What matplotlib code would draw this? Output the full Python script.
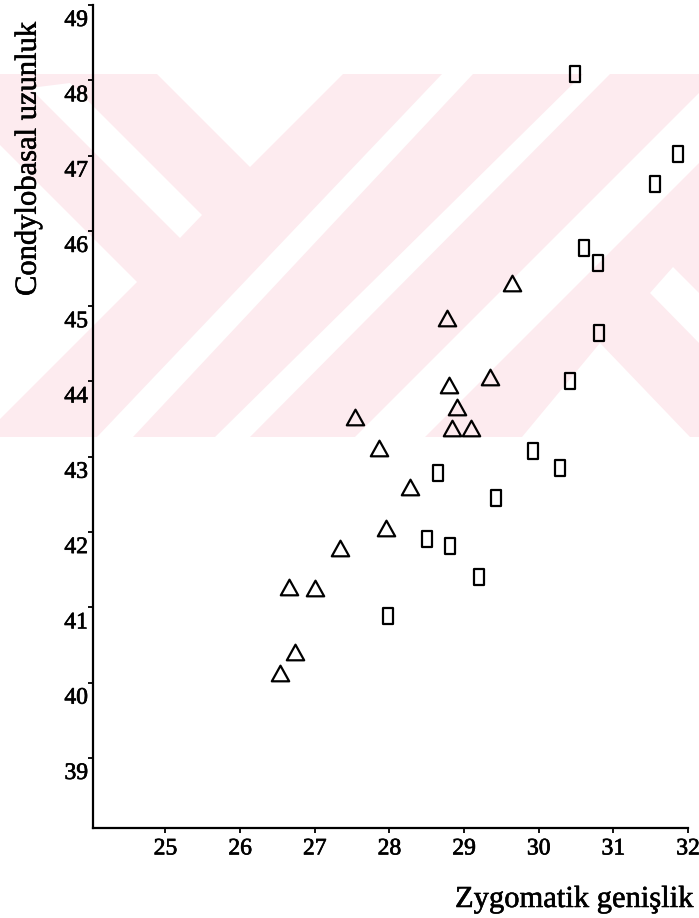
import matplotlib
matplotlib.use("Agg")
import matplotlib.pyplot as plt
from matplotlib.path import Path
from matplotlib.patches import Polygon
import matplotlib.transforms as mtransforms
import matplotlib.patheffects as pe

plt.rcParams['font.family'] = ['Liberation Serif', 'DejaVu Serif']

# ---- data ----
tri_x = [26.53, 26.73, 26.66, 27.01, 27.34, 27.95, 27.86, 28.28, 27.54, 28.77,
         28.80, 28.91, 28.84, 29.09, 29.35, 29.64]
tri_y = [40.13, 40.41, 41.27, 41.26, 41.79, 42.05, 43.12, 42.60, 43.53, 44.84,
         43.95, 43.66, 43.38, 43.38, 44.06, 45.31]

rect_x = [30.48, 31.86, 31.56, 30.61, 30.79, 30.81, 30.42, 29.92, 30.28, 28.65,
          29.43, 28.50, 28.81, 29.20, 27.98]
rect_y = [48.08, 47.02, 46.62, 45.77, 45.57, 44.64, 44.01, 43.08, 42.85, 42.78,
          42.45, 41.91, 41.82, 41.40, 40.89]

x_ticks = [25, 26, 27, 28, 29, 30, 31, 32]
y_ticks = [39, 40, 41, 42, 43, 44, 45, 46, 47, 48, 49]
x_label = "Zygomatik genişlik"
y_label = "Condylobasal uzunluk"

W, H = 699, 918
fig = plt.figure(figsize=(W / 100, H / 100), dpi=100)
fig.patch.set_facecolor('white')


def fp(x, y):
    return (x / W, 1 - y / H)


# ---- background watermark (pink band with white cut-outs) ----
pink = '#fdebef'
band = Polygon([fp(0, 74), fp(699, 74), fp(699, 437), fp(0, 437)], closed=True,
               transform=fig.transFigure, facecolor=pink, edgecolor='none', zorder=-20)
fig.add_artist(band)
white_shapes = [
    [(157, 74), (343, 74), (250, 167)],
    [(442, 74), (473, 74), (133, 437), (97, 437)],
    [(583, 74), (610, 74), (250, 437), (215, 437)],
    [(699, 93), (699, 163), (425, 437), (355, 437)],
    [(600, 343), (690, 437), (522, 437)],
    [(650, 293), (673, 267), (699, 293), (699, 343)],
    [(30, 88), (70, 83), (202, 215), (180, 238)],
    [(0, 145), (137, 282), (0, 419)],
]
for shp in white_shapes:
    fig.add_artist(Polygon([fp(x, y) for x, y in shp], closed=True,
                           transform=fig.transFigure, facecolor='white',
                           edgecolor='none', zorder=-15))

# ---- axes ----
left, right, bottom, top = 93, 688, 828, 5
ax = fig.add_axes([left / W, 1 - bottom / H, (right - left) / W, (bottom - top) / H])
ax.patch.set_visible(False)
ax.set_xlim(24.03, 32.0)
ax.set_ylim(38.07, 49.0)

tri_marker = Path([(-1, -0.9), (1, -0.9), (0, 0.9), (-1, -0.9)],
                  [Path.MOVETO, Path.LINETO, Path.LINETO, Path.CLOSEPOLY])
rect_marker = Path([(-0.3, -0.5), (0.3, -0.5), (0.3, 0.5), (-0.3, 0.5), (-0.3, -0.5)],
                   [Path.MOVETO, Path.LINETO, Path.LINETO, Path.LINETO, Path.CLOSEPOLY])

ax.plot(tri_x, tri_y, linestyle='none', marker=tri_marker, markersize=12.5,
        markerfacecolor='none', markeredgecolor='black', markeredgewidth=1.6)
ax.plot(rect_x, rect_y, linestyle='none', marker=rect_marker, markersize=11,
        markerfacecolor='none', markeredgecolor='black', markeredgewidth=1.6)

for s in ['top', 'right']:
    ax.spines[s].set_visible(False)
for s in ['left', 'bottom']:
    ax.spines[s].set_linewidth(1.6)
    ax.spines[s].set_color('black')

bold = [pe.withStroke(linewidth=0.5, foreground='black')]

ax.set_xticks(x_ticks)
ax.set_xticklabels([str(v) for v in x_ticks])
ax.set_yticks(y_ticks)
ax.set_yticklabels([])
ax.tick_params(axis='both', direction='out', length=3.5, width=1.3, color='black')
ax.tick_params(axis='x', labelsize=17, pad=4)
for lab in ax.get_xticklabels():
    lab.set_path_effects(bold)

ytrans = mtransforms.offset_copy(ax.get_yaxis_transform(), fig=fig, x=-5, y=-5, units='dots')
for v in y_ticks:
    ax.text(0, v, str(v), transform=ytrans, ha='right', va='top', fontsize=17,
            clip_on=False, path_effects=bold)

fig.text(693 / W, 1 - 907 / H, x_label, ha='right', va='baseline', fontsize=22,
         path_effects=[pe.withStroke(linewidth=0.4, foreground='black')])
fig.text(28 / W, 1 - 159 / H, y_label, ha='center', va='center', rotation=90, fontsize=22,
         path_effects=[pe.withStroke(linewidth=0.4, foreground='black')])

fig.savefig('out.png', dpi=100)
